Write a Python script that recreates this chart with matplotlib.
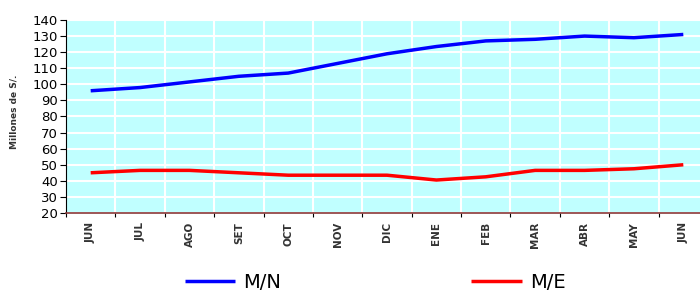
import matplotlib.pyplot as plt
import numpy as np

months = ['JUN', 'JUL', 'AGO', 'SET', 'OCT', 'NOV', 'DIC', 'ENE', 'FEB', 'MAR', 'ABR', 'MAY', 'JUN']
mn = [96, 98, 101.5, 105, 107, 113, 119, 123.5, 127, 128, 130, 129, 131]
me = [45, 46.5, 46.5, 45, 43.5, 43.5, 43.5, 40.5, 42.5, 46.5, 46.5, 47.5, 50]

fig = plt.figure(figsize=(7, 2.91), dpi=100)
ax = fig.add_axes([66 / 700, 1 - 213 / 291, 642 / 700, 193 / 291])
ax.set_facecolor('#C0FFFF')

x = np.arange(len(months))
ax.plot(x, mn, color='#0000FF', lw=2.5, label='M/N', solid_capstyle='butt')
ax.plot(x, me, color='#FF0000', lw=2.5, label='M/E', solid_capstyle='butt')

ax.set_xlim(-0.5, 12.5)
ax.set_ylim(20, 140)
ax.set_yticks(np.arange(20, 141, 10))
ax.set_xticks(x)
ax.set_xticklabels(months, rotation=90, fontsize=7.5, fontweight='bold', color='#333333',
                   family=['Liberation Sans Narrow', 'DejaVu Sans'])
ax.set_xticks(np.arange(-0.5, 12.6, 1), minor=True)
ax.tick_params(axis='x', which='major', length=0, pad=6.5)
ax.tick_params(axis='x', which='minor', length=3, width=0.8)
ax.tick_params(axis='y', length=4, width=0.8, labelsize=9.5, pad=2)

ax.grid(True, which='major', axis='y', color='white', lw=1.5)
ax.grid(True, which='minor', axis='x', color='white', lw=1.5)
ax.set_axisbelow(True)

for s in ['top', 'right']:
    ax.spines[s].set_visible(False)
ax.spines['bottom'].set_color('#8B3A3A')
ax.spines['bottom'].set_linewidth(1.2)
ax.spines['left'].set_color('black')
ax.spines['left'].set_linewidth(0.8)

fig.text(0.02, 1 - 112 / 291, 'Millones de S/.', rotation=90, fontsize=6.5,
         fontweight='bold', color='#333333', ha='center', va='center',
         family=['Liberation Sans Narrow', 'DejaVu Sans'])

fig.legend(loc='center', bbox_to_anchor=(375 / 700, 1 - 282 / 291), ncol=2,
           frameon=False, fontsize=14, handlelength=2.6, columnspacing=9.8,
           handletextpad=0.4, borderpad=0)

fig.savefig('out.png', dpi=100)
